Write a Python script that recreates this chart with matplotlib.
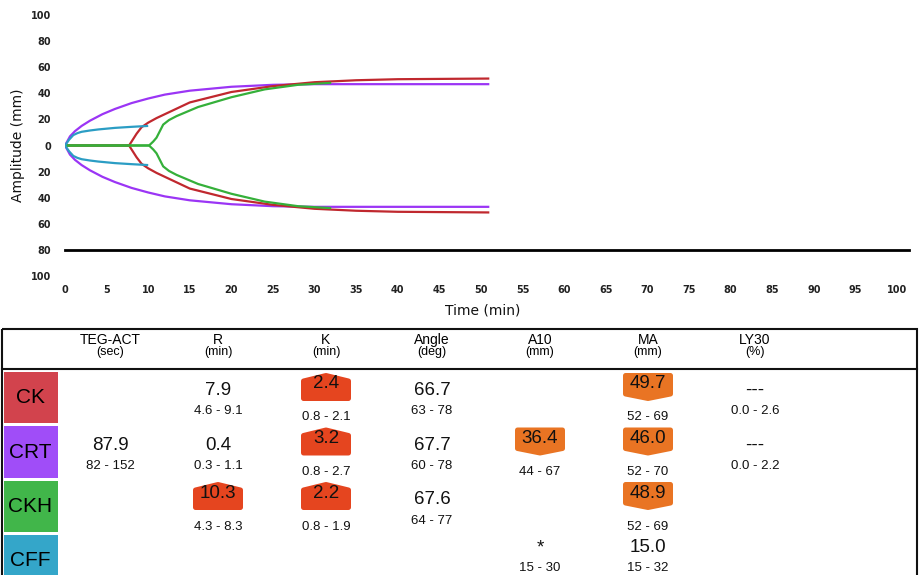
import matplotlib

matplotlib.use('Agg')
import matplotlib.pyplot as plt
from matplotlib.patches import Rectangle, Polygon

W, H = 919, 575

# TEG tracings (time in min, half amplitude in mm), mirrored around 0
crt_time = [0, 0.6, 1.2, 2, 3, 4.5, 6, 8, 10, 12, 15, 20, 25, 30, 40, 51]
crt_amp = [0, 7, 11, 15, 19, 24, 28, 32.5, 36, 39, 42, 45, 46.5, 47, 47, 47]
ck_time = [0, 7.7, 8.2, 8.6, 9.2, 10, 11, 12, 15, 20, 25, 30, 35, 40, 51]
ck_amp = [0, 0, 5, 9, 14, 17.5, 21, 24, 33, 41, 45.5, 48.5, 50, 50.8, 51.3]
ckh_time = [0, 10.1, 10.6, 11, 11.4, 11.8, 12.5, 13.4, 16, 20, 24, 28, 32]
ckh_amp = [0, 0, 3, 6, 11, 16, 19.5, 22.5, 29.5, 37, 43, 46.5, 48]
cff_time = [0, 0.5, 1, 1.5, 2, 3, 4, 6, 8, 10]
cff_amp = [0, 4.5, 8, 9.5, 10.5, 11.5, 12.3, 13.5, 14.3, 15]
lysis_level = -80

x_ticks = list(range(0, 101, 5))
y_ticks = list(range(-100, 101, 20))

# results table
row_names = ["CK", "CRT", "CKH", "CFF"]
col_titles = ["TEG-ACT", "R", "K", "Angle", "A10", "MA", "LY30"]
col_units = ["(sec)", "(min)", "(min)", "(deg)", "(mm)", "(mm)", "(%)"]
teg_act = [None, "87.9", None, None]
teg_act_range = [None, "82 - 152", None, None]
r_time = ["7.9", "0.4", "10.3", None]
r_range = ["4.6 - 9.1", "0.3 - 1.1", "4.3 - 8.3", None]
k_time = ["2.4", "3.2", "2.2", None]
k_range = ["0.8 - 2.1", "0.8 - 2.7", "0.8 - 1.9", None]
angle = ["66.7", "67.7", "67.6", None]
angle_range = ["63 - 78", "60 - 78", "64 - 77", None]
a10 = [None, "36.4", None, "*"]
a10_range = [None, "44 - 67", None, "15 - 30"]
ma = ["49.7", "46.0", "48.9", "15.0"]
ma_range = ["52 - 69", "52 - 70", "52 - 69", "15 - 32"]
ly30 = ["---", "---", None, None]
ly30_range = ["0.0 - 2.6", "0.0 - 2.2", None, None]

table_values = [teg_act, r_time, k_time, angle, a10, ma, ly30]
table_ranges = [teg_act_range, r_range, k_range, angle_range, a10_range,
                ma_range, ly30_range]

# colors
CK_RED = "#c0282e"
CRT_PURPLE = "#9b35f5"
CKH_GREEN = "#35b03a"
CFF_BLUE = "#2b9dc4"
row_colors = ["#d2434d", "#a04df8", "#41b64a", "#34a6c9"]
HIGH_COLOR = "#e5451f"
LOW_COLOR = "#e97423"

fig = plt.figure(figsize=(W / 100, H / 100), dpi=100)


def px_axes(x0, y0, x1, y1):
    return fig.add_axes([x0 / W, 1 - y1 / H, (x1 - x0) / W, (y1 - y0) / H])


# ---- table (drawn in pixel coordinates) ----
tab = fig.add_axes([0, 0, 1, 1])
tab.set_xlim(0, W)
tab.set_ylim(H, 0)
tab.axis('off')

tab.add_patch(Rectangle((2, 328.5), 915, 260, fill=False, lw=1.5,
                        edgecolor='#111111', clip_on=False))
tab.plot([2, 917], [368.5, 368.5], color='#111111', lw=1.5)

col_x = [110, 218, 326, 432, 540, 648, 755]
row_top = [371.5, 426, 480.5, 535]
val_dy = [19, 19, 19, 13]
rng_dy = [40, 40, 40, 33]
table_font = 'Liberation Sans'

for x, title, unit in zip(col_x, col_titles, col_units):
    tab.text(x, 340, title, ha='center', va='center', fontsize=10,
             family=table_font)
    tab.text(x, 351.5, unit, ha='center', va='center', fontsize=9,
             family=table_font)

for i, name in enumerate(row_names):
    tab.add_patch(Rectangle((3.5, row_top[i]), 54, 51.5,
                            facecolor=row_colors[i], edgecolor='none',
                            clip_on=False))
    tab.text(30.5, row_top[i] + 26, name, ha='center', va='center',
             fontsize=15, family=table_font)


def range_flag(value, rng):
    try:
        v = float(value)
        lo, hi = [float(s) for s in rng.split(" - ")]
    except (TypeError, ValueError, AttributeError):
        return ""
    if v > hi:
        return "hi"
    if v < lo:
        return "lo"
    return ""


def badge(cx, top, kind, w=50):
    inset = 2.5
    l, r = cx - w / 2 + inset, cx + w / 2 - inset
    if kind == "hi":
        pts = [(l, top + 8), (cx, top + inset), (r, top + 8),
               (r, top + 28 - inset), (l, top + 28 - inset)]
        color = HIGH_COLOR
    else:
        pts = [(l, top + inset), (r, top + inset), (r, top + 21),
               (cx, top + 28 - inset), (l, top + 21)]
        color = LOW_COLOR
    tab.add_patch(Polygon(pts, closed=True, facecolor=color, edgecolor=color,
                          lw=3.6, joinstyle='round', clip_on=False))


for j, x in enumerate(col_x):
    for i in range(len(row_names)):
        value = table_values[j][i]
        rng = table_ranges[j][i]
        if value is None:
            continue
        flag = range_flag(value, rng)
        if flag:
            top = row_top[i] + 1.5
            badge(x, top, flag)
            tab.text(x, top + 11, value, ha='center', va='center',
                     fontsize=13.5, family=table_font, color='#111111')
            tab.text(x, row_top[i] + 46, rng, ha='center', va='center',
                     fontsize=9.5, family=table_font, color='#111111')
        else:
            tab.text(x, row_top[i] + val_dy[i], value, ha='center',
                     va='center', fontsize=13.5, family=table_font,
                     color='#111111')
            tab.text(x, row_top[i] + rng_dy[i], rng, ha='center',
                     va='center', fontsize=9.5, family=table_font,
                     color='#111111')

# ---- TEG tracing ----
ax = px_axes(65, 15, 897, 276)
ax.set_xlim(0, 100)
ax.set_ylim(-100, 100)
for s in ax.spines.values():
    s.set_visible(False)
ax.patch.set_alpha(0)

curves = [(crt_time, crt_amp, CRT_PURPLE),
          (ck_time, ck_amp, CK_RED),
          (ckh_time, ckh_amp, CKH_GREEN),
          (cff_time, cff_amp, CFF_BLUE)]
for t, a, color in curves:
    ax.plot(t, a, color=color, lw=1.6, solid_capstyle='butt')
    ax.plot(t, [-v for v in a], color=color, lw=1.6, solid_capstyle='butt')

ax.plot([0, 101.5], [lysis_level, lysis_level], color='black', lw=2,
        clip_on=False)

ax.set_xticks(x_ticks)
ax.set_xticklabels([str(v) for v in x_ticks])
ax.set_yticks(y_ticks)
ax.set_yticklabels([str(abs(v)) for v in y_ticks])
ax.tick_params(axis='both', length=0, labelsize=7, labelcolor='#222222')
ax.tick_params(axis='y', pad=10)
ax.tick_params(axis='x', pad=6.5)
for lab in ax.get_xticklabels() + ax.get_yticklabels():
    lab.set_fontweight('bold')

fig.text(18 / W, 1 - 145 / H, "Amplitude (mm)", rotation=90, ha='center',
         va='center', fontsize=10, color='#111111')
fig.text(483 / W, 1 - 310 / H, "Time (min)", ha='center', va='center',
         fontsize=10, color='#111111')

fig.savefig("out.png", dpi=100)
plt.close()
